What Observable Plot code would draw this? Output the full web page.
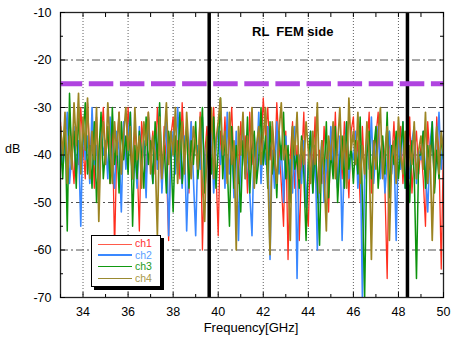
<!DOCTYPE html>
<html>
<head>
<meta charset="utf-8">
<script src="https://cdn.jsdelivr.net/npm/d3@7"></script>
<script src="https://cdn.jsdelivr.net/npm/@observablehq/plot@0.6"></script>
<style>
  html, body { margin: 0; padding: 0; background: #fff; }
  #wrap { position: relative; width: 457px; height: 341px; font-family: "Liberation Sans", Arial, sans-serif; }
  #title { position: absolute; left: 252px; top: 24px; font-weight: bold; font-size: 13px; white-space: pre; color: #000; }
  #ylab { position: absolute; left: 5px; top: 142px; font-size: 12.5px; color: #000; }
  #xlab { position: absolute; left: 0; width: 502px; text-align: center; top: 320px; font-size: 13px; color: #000; }
  #legend { position: absolute; left: 91px; top: 235px; width: 68px; height: 50px; border: 1px solid #000; background: #fff; box-shadow: 3px 3px 0 #000; }
  .ln { position: absolute; left: 6px; width: 34px; }
  #legtext { position: absolute; left: 43px; top: 2px; font-size: 10.5px; line-height: 11.5px; white-space: pre; }
</style>
</head>
<body>
<div id="wrap">
  <div id="chart"></div>
  <div id="title">RL  FEM side</div>
  <div id="ylab">dB</div>
  <div id="xlab">Frequency[GHz]</div>
  <div id="legend"><div id="legtext"></div></div>
</div>
<script>
// Sampling grid: 33.0 .. 50.0 GHz every 0.1 GHz
const freqs = d3.range(171).map(i => +(33 + i * 0.1).toFixed(1));

const ch1 = [
  -33,-41,-36,-44,-31,-39,-46,-35,-42,-30,
  -38,-45,-29,-40,-34,-47,-32,-43,-37,-30,
  -41,-35,-46,-33,-60,-38,-31,-44,-36,-42,
  -30,-39,-45,-34,-41,-56,-33,-38,-46,-31,
  -40,-35,-44,-30,-38,-47,-34,-42,-58,-36,
  -32,-43,-37,-45,-29,-39,-35,-48,-33,-41,
  -36,-44,-31,-60,-40,-34,-47,-38,-30,-43,
  -57,-35,-41,-32,-45,-37,-30,-43,-39,-46,
  -33,-40,-36,-48,-31,-42,-38,-45,-34,-39,
  -28,-36,-30,-41,-34,-44,-29,-38,-46,-55,
  -35,-62,-40,-33,-47,-38,-58,-42,-31,-50,
  -55,-37,-44,-32,-49,-39,-46,-34,-41,-52,
  -36,-43,-31,-47,-38,-45,-33,-40,-49,-35,
  -32,-42,-37,-50,-34,-45,-39,-31,-48,-41,
  -36,-31,-44,-38,-47,-66,-35,-42,-33,-45,
  -39,-34,-46,-37,-43,-32,-48,-40,-35,-44,
  -38,-45,-55,-33,-41,-36,-47,-32,-40,-64,
  -37
];
const ch2 = [
  -35,-43,-38,-31,-46,-40,-34,-44,-37,-55,
  -33,-41,-36,-46,-30,-42,-38,-48,-34,-40,
  -37,-45,-32,-41,-47,-35,-39,-52,-33,-43,
  -36,-31,-44,-39,-47,-34,-42,-37,-49,-32,
  -40,-46,-35,-43,-30,-48,-38,-33,-57,-41,
  -35,-44,-30,-39,-47,-36,-56,-41,-33,-45,
  -57,-38,-43,-32,-46,-37,-41,-35,-48,-39,
  -34,-42,-36,-47,-31,-44,-38,-49,-35,-58,
  -40,-33,-45,-39,-48,-57,-36,-43,-31,-46,
  -37,-42,-34,-62,-39,-47,-33,-44,-38,-50,
  -36,-45,-41,-48,-34,-66,-40,-46,-37,-51,
  -43,-35,-48,-39,-60,-44,-37,-50,-41,-46,
  -34,-42,-38,-47,-36,-58,-40,-33,-45,-39,
  -41,-35,-47,-38,-70,-44,-36,-43,-32,-46,
  -39,-34,-45,-37,-48,-41,-35,-44,-38,-58,
  -36,-43,-33,-47,-40,-45,-37,-34,-46,-39,
  -41,-35,-44,-52,-38,-33,-46,-40,-31,-43,
  -36
];
const ch3 = [
  -38,-45,-32,-56,-27,-41,-35,-47,-30,-43,
  -36,-29,-44,-38,-47,-33,-50,-40,-31,-45,
  -39,-34,-46,-30,-42,-37,-48,-33,-41,-36,
  -44,-31,-55,-38,-45,-35,-40,-47,-32,-42,
  -37,-46,-33,-41,-29,-44,-38,-48,-35,-40,
  -52,-36,-43,-31,-46,-39,-34,-47,-37,-42,
  -33,-45,-38,-30,-48,-41,-36,-44,-32,-47,
  -39,-28,-45,-36,-42,-55,-34,-47,-38,-43,
  -52,-37,-44,-32,-48,-39,-35,-46,-41,-30,
  -42,-36,-47,-33,-44,-39,-49,-35,-41,-31,
  -45,-38,-50,-34,-43,-40,-47,-36,-44,-58,
  -41,-35,-48,-38,-46,-59,-37,-44,-33,-49,
  -39,-45,-34,-50,-41,-36,-47,-33,-43,-38,
  -46,-37,-44,-32,-49,-70,-40,-35,-45,-39,
  -34,-47,-40,-36,-44,-31,-49,-38,-42,-35,
  -45,-39,-33,-47,-41,-50,-37,-44,-66,-40,
  -40,-35,-47,-38,-43,-33,-48,-39,-45,-36,
  -41
];
const ch4 = [
  -34,-40,-31,-46,-36,-43,-29,-38,-27,-44,
  -32,-39,-28,-45,-35,-41,-30,-54,-37,-33,
  -42,-29,-38,-46,-33,-40,-31,-44,-36,-30,
  -39,-34,-45,-30,-41,-36,-47,-33,-38,-31,
  -44,-36,-40,-57,-32,-45,-37,-29,-42,-35,
  -40,-30,-46,-37,-33,-44,-31,-39,-45,-34,
  -38,-43,-32,-47,-54,-36,-41,-30,-45,-37,
  -33,-28,-40,-35,-46,-31,-42,-37,-60,-34,
  -40,-31,-45,-36,-43,-30,-47,-38,-34,-42,
  -36,-30,-43,-61,-33,-40,-46,-35,-29,-41,
  -38,-44,-58,-34,-40,-31,-45,-37,-42,-33,
  -39,-46,-35,-42,-29,-48,-37,-44,-56,-36,
  -41,-33,-45,-38,-30,-43,-36,-47,-28,-39,
  -35,-42,-31,-46,-38,-44,-33,-40,-62,-37,
  -43,-36,-30,-45,-39,-34,-58,-41,-37,-46,
  -32,-40,-44,-35,-48,-38,-42,-33,-45,-39,
  -36,-43,-31,-46,-38,-58,-41,-34,-44,-35,
  -40
];

const seriesNames = ["ch1", "ch2", "ch3", "ch4"];
const seriesValues = [ch1, ch2, ch3, ch4];
const lineColors = ["#ff2e1e", "#3a88ff", "#0c930c", "#9c8422"];
const lineWidths = [1.3, 1.6, 1.5, 1.7];
const legendLineColors = ["#ff5a4a", "#3a88ff", "#119911", "#9a8a30"];
const legendTextColors = ["#ff3030", "#5aa0ff", "#229922", "#a89848"];
const legendLineWidths = [1, 2.5, 1.5, 1.5];

const xTickLabels = [34, 36, 38, 40, 42, 44, 46, 48, 50];
const xMinorTicks = [33, 35, 37, 39, 41, 43, 45, 47, 49];
const yTickLabels = [-10, -20, -30, -40, -50, -60, -70];
const yMinorTicks = [-15, -25, -35, -45, -55, -65];
const yGridLines = [-20, -30, -40, -50, -60];
const xGridLines = [34, 36, 38, 40, 42, 44, 46, 48];
const markerFreqs = [39.6, 48.4];
const limitDb = [-25];

const lineMarks = seriesValues.map((vals, k) =>
  Plot.line(freqs.map((f, i) => ({f, v: vals[i]})), {
    x: "f", y: "v", stroke: lineColors[k], strokeWidth: lineWidths[k], clip: true
  })
);

const noText = () => "";
const plainNum = d => String(d);

const chart = Plot.plot({
  width: 457, height: 341,
  marginLeft: 60, marginRight: 14, marginTop: 12, marginBottom: 44,
  x: {domain: [33, 50], label: null},
  y: {domain: [-70, -10], label: null},
  style: {fontFamily: '"Liberation Sans", Arial, sans-serif', fontSize: "12.5px", color: "#000", background: "transparent"},
  marks: [
    Plot.gridY(yGridLines, {stroke: "#333", strokeOpacity: 0.85, strokeDasharray: "8,3,2,3"}),
    Plot.gridX(xGridLines, {stroke: "#444", strokeOpacity: 0.85, strokeDasharray: "1,2"}),
    ...lineMarks,
    Plot.ruleX(markerFreqs, {stroke: "#000", strokeWidth: 3.5}),
    Plot.ruleY(limitDb, {stroke: "#b044e0", strokeWidth: 5, strokeDasharray: "24.5,6.6", strokeDashoffset: 2.3}),
    Plot.frame({stroke: "#222", strokeWidth: 1.3}),
    Plot.axisX(xTickLabels, {anchor: "bottom", tickSize: -5, tickPadding: 15, tickFormat: plainNum, label: null, fill: "#000"}),
    Plot.axisX(xTickLabels.concat(xMinorTicks), {anchor: "top", tickSize: -4, tickFormat: noText, label: null}),
    Plot.axisX(xMinorTicks, {anchor: "bottom", tickSize: -3, tickFormat: noText, label: null}),
    Plot.axisY(yTickLabels, {anchor: "left", tickSize: -5, tickPadding: 14, tickFormat: plainNum, label: null, fill: "#000"}),
    Plot.axisY(yMinorTicks, {anchor: "left", tickSize: -3, tickFormat: noText, label: null}),
    Plot.axisY(yTickLabels.concat(yMinorTicks), {anchor: "right", tickSize: -4, tickFormat: noText, label: null})
  ]
});
document.getElementById("chart").appendChild(chart);

const legend = document.getElementById("legend");
const legText = document.getElementById("legtext");
seriesNames.forEach((name, k) => {
  const ln = document.createElement("div");
  ln.className = "ln";
  ln.style.borderTop = legendLineWidths[k] + "px solid " + legendLineColors[k];
  ln.style.top = (8 + k * 11.5 - legendLineWidths[k] / 2) + "px";
  legend.appendChild(ln);
  const sp = document.createElement("span");
  sp.style.color = legendTextColors[k];
  sp.textContent = name + (k < seriesNames.length - 1 ? "\n" : "");
  legText.appendChild(sp);
});
</script>
</body>
</html>
